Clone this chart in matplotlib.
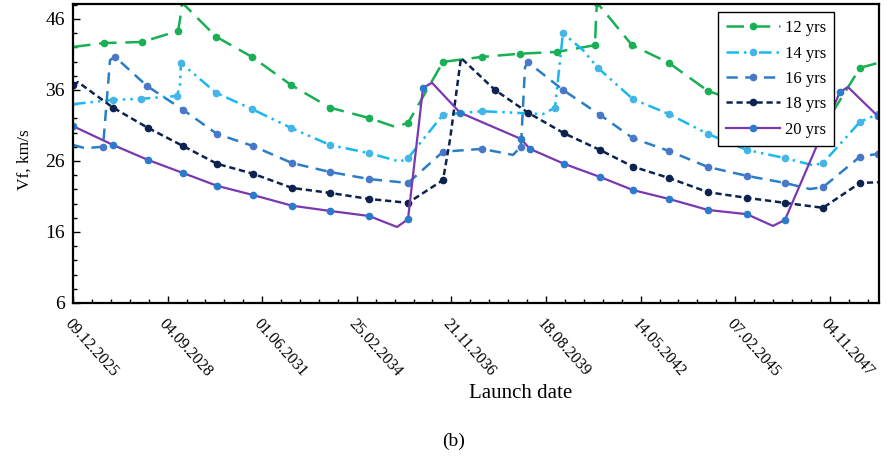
import matplotlib
matplotlib.use("Agg")
import matplotlib.pyplot as plt
from matplotlib.ticker import MultipleLocator, FixedLocator

plt.rcParams['font.family'] = ['Liberation Serif', 'DejaVu Serif']

# x = days after 09.12.2025
tick_days = [0, 1000, 2000, 3000, 4000, 5000, 6000, 7000, 8000]
tick_labels = ["09.12.2025", "04.09.2028", "01.06.2031", "25.02.2034", "21.11.2036",
               "18.08.2039", "14.05.2042", "07.02.2045", "04.11.2047"]
y_ticks = [6, 16, 26, 36, 46]

days_12 = [0, 328, 729, 1110, 1131, 1152, 1511, 1892, 2304, 2716, 3129, 3404, 3541, 3911,
           4323, 4725, 5116, 5518, 5528, 5539, 5909, 6300, 6712, 7124, 7526, 7843, 7980, 8319, 8509]
vf_12 = [42.05, 42.6, 42.75, 44.3, 45.9, 48.3, 43.5, 40.65, 36.7, 33.5, 32.05, 30.8, 31.35, 39.95,
         40.65, 41.1, 41.35, 42.3, 45.9, 48.3, 42.3, 39.8, 35.85, 34.0, 32.2, 30.9, 31.8, 39.1, 39.8]
mk_12 = [1, 2, 3, 6, 7, 8, 9, 10, 12, 13, 14, 15, 16, 17, 19, 20, 21, 22, 23, 24, 26, 27]

days_14 = [0, 423, 719, 1099, 1130, 1142, 1511, 1892, 2304, 2716, 3129, 3456, 3541, 3911,
           4091, 4323, 4968, 5095, 5179, 5391, 5549, 5919, 6300, 6712, 7124, 7526, 7822, 7928, 8319, 8509]
vf_14 = [34.0, 34.6, 34.75, 35.15, 36.7, 39.8, 35.6, 33.3, 30.65, 28.25, 27.1, 25.9, 26.4, 32.5,
         32.75, 33.0, 32.6, 33.5, 44.0, 41.6, 39.1, 34.7, 32.6, 29.8, 27.55, 26.4, 25.4, 25.7, 31.5, 32.6]
mk_14 = [1, 2, 3, 5, 6, 7, 8, 9, 10, 12, 13, 15, 17, 18, 20, 21, 22, 23, 24, 25, 27, 28, 29]

days_16 = [0, 127, 317, 391, 444, 782, 1163, 1522, 1903, 2315, 2716, 3129, 3541, 3911, 4323,
           4651, 4735, 4778, 4809, 5179, 5570, 5919, 6300, 6712, 7124, 7526, 7790, 7928, 8319, 8509]
vf_16 = [28.25, 27.8, 28.0, 40.2, 40.65, 36.55, 33.2, 29.8, 28.1, 25.7, 24.45, 23.45, 22.9, 27.3, 27.7,
         26.85, 28.0, 39.2, 39.9, 36.0, 32.5, 29.2, 27.4, 25.15, 23.9, 22.9, 22.05, 22.3, 26.6, 27.0]
mk_16 = [2, 4, 5, 6, 7, 8, 9, 10, 11, 12, 13, 14, 16, 18, 19, 20, 21, 22, 23, 24, 25, 27, 28, 29]

days_18 = [0, 53, 423, 793, 1163, 1522, 1903, 2315, 2716, 3129, 3541, 3911, 3985, 4101, 4460,
           4809, 5190, 5570, 5919, 6300, 6712, 7124, 7526, 7928, 8319, 8509]
vf_18 = [36.7, 37.1, 33.5, 30.65, 28.1, 25.6, 24.2, 22.2, 21.5, 20.65, 20.1, 23.3, 29.0, 40.5, 36.0,
         32.8, 29.9, 27.55, 25.2, 23.6, 21.6, 20.8, 20.1, 19.4, 22.9, 23.0]
mk_18 = [0, 2, 3, 4, 5, 6, 7, 8, 9, 10, 11, 14, 15, 16, 17, 18, 19, 20, 21, 22, 23, 24]

days_20 = [0, 423, 793, 1163, 1522, 1903, 2315, 2716, 3129, 3425, 3541, 3700, 3795, 4091, 4735,
           4830, 5190, 5570, 5919, 6300, 6712, 7124, 7399, 7526, 8107, 8192, 8509]
vf_20 = [30.9, 28.25, 26.14, 24.3, 22.5, 21.2, 19.7, 18.96, 18.25, 16.7, 17.8, 36.3, 37.0, 32.8, 29.1,
         27.7, 25.6, 23.75, 21.9, 20.65, 19.1, 18.5, 16.85, 17.7, 35.7, 36.4, 32.3]
mk_20 = [0, 1, 2, 3, 4, 5, 6, 7, 8, 10, 11, 13, 14, 15, 16, 17, 18, 19, 20, 21, 23, 24, 26]

fig = plt.figure(figsize=(8.94, 4.63), dpi=100)
ax = fig.add_axes([0.0817, 0.3456, 0.9015, 0.6458])

ax.plot(days_12, vf_12, color="#19AF55", lw=1.8, dashes=(7, 3.5), marker="o", ms=4.5,
        markevery=mk_12, mfc="#19AF55", mec="#19AF55", label="12 yrs")
ax.plot(days_14, vf_14, color="#19B8F0", lw=1.8, dashes=(5, 2, 1, 2, 1, 2), marker="o", ms=4.5,
        markevery=mk_14, mfc="#45B5E8", mec="#45B5E8", label="14 yrs")
ax.plot(days_16, vf_16, color="#2A7DC6", lw=1.8, dashes=(4.5, 3), marker="o", ms=4.5,
        markevery=mk_16, mfc="#4A78C8", mec="#4A78C8", label="16 yrs")
ax.plot(days_18, vf_18, color="#0C2350", lw=1.8, dashes=(2.5, 1.5), marker="o", ms=4.5,
        markevery=mk_18, mfc="#0C2350", mec="#0C2350", label="18 yrs")
ax.plot(days_20, vf_20, color="#7A38B0", lw=1.6, marker="o", ms=4.5,
        markevery=mk_20, mfc="#2C7ACB", mec="#2C7ACB", label="20 yrs")

ax.set_xlim(0, 8520)
ax.set_ylim(6, 48.1)
ax.xaxis.set_major_locator(FixedLocator(tick_days))
ax.xaxis.set_minor_locator(MultipleLocator(200))
ax.set_xticklabels(tick_labels, rotation=-48, ha="left", va="top", rotation_mode="anchor", fontsize=11.5)
ax.yaxis.set_major_locator(FixedLocator(y_ticks))
ax.yaxis.set_minor_locator(MultipleLocator(2))
ax.tick_params(axis="both", which="both", direction="in", top=False, right=False)
ax.tick_params(axis="both", which="major", length=5, width=1)
ax.tick_params(axis="both", which="minor", length=3, width=1)
ax.tick_params(axis="y", labelsize=14, pad=6)
ax.tick_params(axis="x", pad=9)
for s in ax.spines.values():
    s.set_linewidth(1.6)

ax.set_ylabel("Vf, km/s", fontsize=12.5)
ax.yaxis.set_label_coords(-0.05, 0.478)
fig.text(0.582, 0.151, "Launch date", fontsize=15, ha="center", va="center")
fig.text(0.507, 0.046, "(b)", fontsize=14, ha="center", va="center")

leg = ax.legend(loc="upper left", bbox_to_anchor=(718 / 894, 1 - 12 / 463), bbox_transform=fig.transFigure,
                fontsize=12, frameon=True, fancybox=False, edgecolor="black", framealpha=1,
                handlelength=3.2, labelspacing=0.56, borderpad=0.5, handletextpad=0.3, borderaxespad=0)
leg.get_frame().set_linewidth(1.0)

fig.savefig("out.png", dpi=100)
